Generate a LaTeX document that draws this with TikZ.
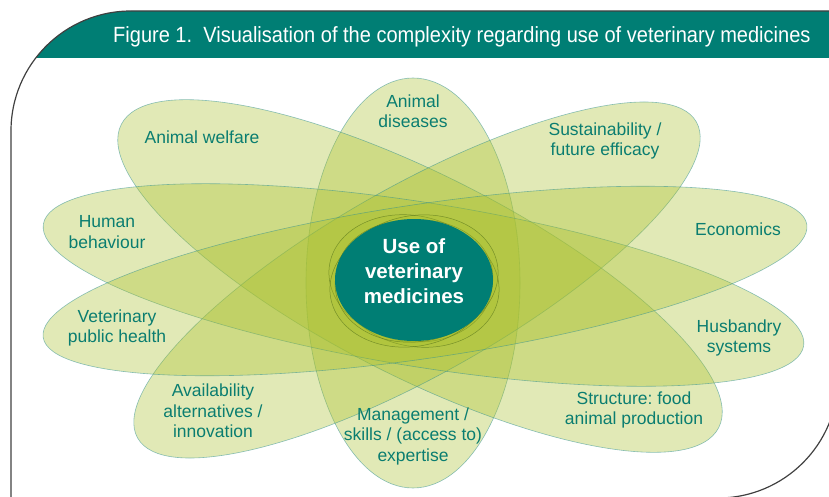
\documentclass[tikz,border=0pt]{standalone}
\usepackage{fontspec}
\setmainfont{Liberation Sans}
\newfontfamily\titlefont[FakeStretch=0.91]{Liberation Sans}
\definecolor{vmteal}{RGB}{0,126,116}
\definecolor{petal}{RGB}{170,192,45}
\definecolor{petaledge}{RGB}{50,145,145}
\definecolor{rimedge}{RGB}{70,100,20}
\definecolor{labteal}{RGB}{10,125,112}
\frenchspacing
\begin{document}
\begin{tikzpicture}[x=1pt,y=-1pt,
    petal/.style={fill=petal,fill opacity=0.35,draw=petaledge,draw opacity=0.55,line width=0.6pt},
    rim/.style={fill=petal,fill opacity=0.3,draw=rimedge,draw opacity=0.55,line width=0.5pt},
    lab/.style={text=labteal,align=center,font=\fontsize{17.5}{20.5}\selectfont}]
    \useasboundingbox (0,0) rectangle (829,497);
    % frame and title band
    \begin{scope}
        \clip (11,505) -- (11,131) .. controls (11,64.7) and (64.7,11) .. (131,11) -- (838,11)
            -- (838,378) .. controls (838,444.3) and (784.3,498) .. (718,498) -- (0,505) -- cycle;
        \fill[vmteal] (0,0) rectangle (829,58);
    \end{scope}
    \draw[line width=1.2pt,black!75] (11,505) -- (11,131) .. controls (11,64.7) and (64.7,11) .. (131,11)
        -- (838,11) -- (838,378) .. controls (838,444.3) and (784.3,498) .. (718,498) -- (0,498);
    \node[anchor=base west,text=white,inner sep=0pt,font=\titlefont\fontsize{22}{24}\selectfont] (title) at (113,43)
        {Figure 1.\ \ Visualisation of the complexity regarding use of veterinary medicines};
    % petals
    \foreach \cx/\cy/\ang/\ra/\rb in {413/283/90/205/107,420/276/-26.9/335/101,417/280/29.5/321/94,
        423.5/285/-9.1/385/82,425/281/8.4/386/77}
        \draw[petal,rotate around={\ang:(\cx,\cy)}] (\cx,\cy) ellipse [x radius=\ra,y radius=\rb];
    \foreach \dx/\dy/\ang in {-4/-2/-10,4/2/-10,-3/2/10,3/-2/10}
        \draw[rim,rotate around={\ang:(414,281)}] (414+\dx,281+\dy) ellipse [x radius=82,y radius=63];
    \fill[vmteal] (414,280) ellipse [x radius=79,y radius=61];
    \node[text=white,align=center,font=\fontsize{20.5}{25}\selectfont\bfseries] (use) at (414,271)
        {Use of\\veterinary\\medicines};
    % labels
    \node[lab] (diseases) at (413,111) {Animal\\diseases};
    \node[lab] (sustain) at (605,141) {Sustainability /\\future efficacy};
    \node[lab] (economics) at (738,229) {Economics};
    \node[lab] (husbandry) at (739,338) {Husbandry\\systems};
    \node[lab] (structure) at (634,410) {Structure: food\\animal production};
    \node[lab] (management) at (413,436) {Management /\\skills / (access to)\\expertise};
    \node[lab] (availability) at (213,411) {Availability\\alternatives /\\innovation};
    \node[lab] (publichealth) at (117,328) {Veterinary\\public health};
    \node[lab] (behaviour) at (107,232) {Human\\behaviour};
    \node[lab] (welfare) at (202,137) {Animal welfare};
\end{tikzpicture}
\end{document}
